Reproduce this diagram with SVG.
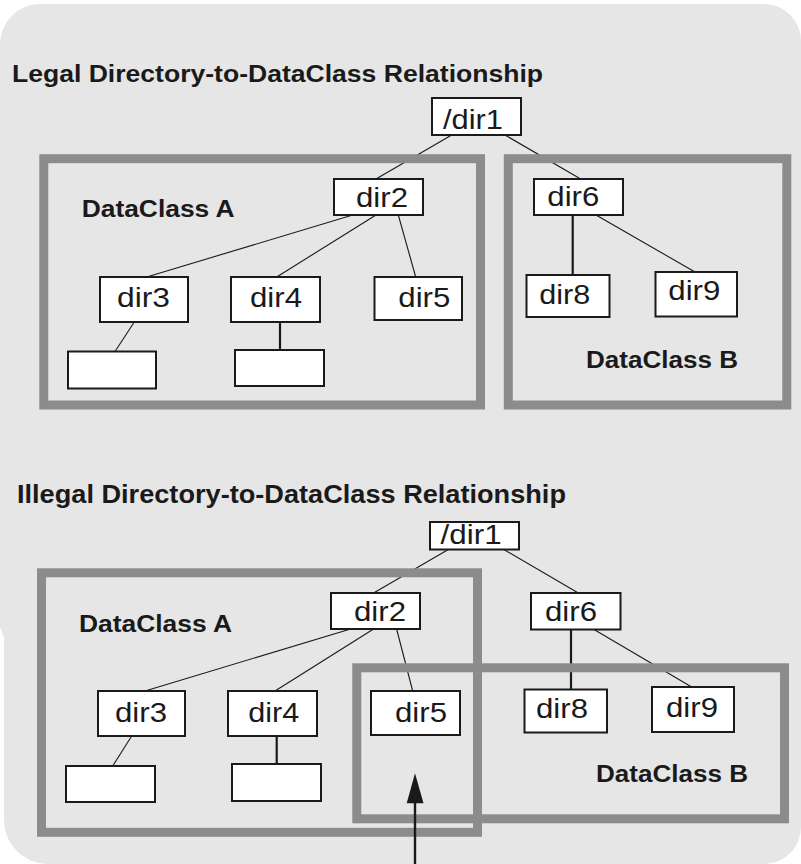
<svg xmlns="http://www.w3.org/2000/svg" width="801" height="864" viewBox="0 0 801 864">
<style>
.bg{fill:#e6e6e6}
.frame{fill:none;stroke:#8c8c8c;stroke-width:9}
.box{fill:#fff;stroke:#1a1a1a;stroke-width:2}
.lbl{font-family:"Liberation Sans",Arial,sans-serif;fill:#1a1a1a;font-size:27px}
.title{font-family:"Liberation Sans",Arial,sans-serif;font-weight:bold;fill:#1a1a1a}
.conn line{stroke:#1a1a1a;stroke-width:1.1}
.conn line.thick{stroke-width:2.2}
</style>
<path class="bg" d="M40,4 H764 A37,37 0 0 1 801,41 V827 A37,37 0 0 1 764,864 H48 A44,44 0 0 1 4,820 V637 L0,627 V44 A40,40 0 0 1 40,4 Z"/>
<text class="title" x="12" y="81.5" font-size="23.5" textLength="531" lengthAdjust="spacingAndGlyphs">Legal Directory-to-DataClass Relationship</text>
<text class="title" x="17" y="503" font-size="25.5" textLength="549" lengthAdjust="spacingAndGlyphs">Illegal Directory-to-DataClass Relationship</text>

<g id="connectors" class="conn">
<line x1="451.7" y1="135" x2="376" y2="179"/>
<line x1="505" y1="135" x2="580.7" y2="179"/>
<line x1="352.7" y1="215" x2="146.7" y2="277"/>
<line x1="376" y1="215" x2="276.7" y2="277"/>
<line x1="398.3" y1="215" x2="415.7" y2="277"/>
<line x1="134.3" y1="322" x2="115" y2="351.5"/>
<line class="thick" x1="280" y1="322" x2="280" y2="350"/>
<line class="thick" x1="572.7" y1="215" x2="572.7" y2="275"/>
<line x1="596" y1="215" x2="695" y2="272"/>

<line x1="448.3" y1="549.5" x2="373.6" y2="593"/>
<line x1="503.8" y1="549.5" x2="578.3" y2="593"/>
<line x1="350.6" y1="629" x2="145" y2="691"/>
<line x1="373.6" y1="629" x2="275" y2="691"/>
<line x1="396.6" y1="629" x2="412.7" y2="691"/>
<line x1="131.7" y1="736" x2="112.7" y2="766"/>
<line class="thick" x1="276.7" y1="736" x2="276.7" y2="764"/>
<line class="thick" x1="571" y1="629.5" x2="571" y2="689.5"/>
<line x1="594" y1="629.5" x2="691.7" y2="687"/>
</g>

<g id="legal-dataclass-a"><rect class="frame" x="43.8" y="158.7" width="436.7" height="246.3"/>
<text class="title" x="81.7" y="216.7" font-size="23.5" textLength="153" lengthAdjust="spacingAndGlyphs">DataClass A</text></g>
<g id="legal-dataclass-b"><rect class="frame" x="508.3" y="158.7" width="278.5" height="246.3"/>
<text class="title" x="586" y="368.3" font-size="23.5" textLength="152" lengthAdjust="spacingAndGlyphs">DataClass B</text></g>
<g id="illegal-dataclass-a"><rect class="frame" x="41.5" y="572.8" width="436" height="259.5"/>
<text class="title" x="79" y="632" font-size="23.5" textLength="153" lengthAdjust="spacingAndGlyphs">DataClass A</text></g>
<g id="illegal-dataclass-b"><rect class="frame" x="356.8" y="667.8" width="427.7" height="151"/>
<text class="title" x="596" y="781.7" font-size="23.5" textLength="152" lengthAdjust="spacingAndGlyphs">DataClass B</text></g>

<g id="t-dir1"><rect class="box" x="432" y="98" width="89" height="37"/><text class="lbl" x="443" y="128.5" font-size="30" textLength="60" lengthAdjust="spacingAndGlyphs">/dir1</text></g>
<g id="t-dir2"><rect class="box" x="334" y="179" width="89" height="36"/><text class="lbl" x="356" y="207" textLength="52" lengthAdjust="spacingAndGlyphs">dir2</text></g>
<g id="t-dir3"><rect class="box" x="100" y="277" width="88" height="45"/><text class="lbl" x="117" y="307" textLength="53" lengthAdjust="spacingAndGlyphs">dir3</text></g>
<g id="t-dir4"><rect class="box" x="231" y="277" width="89" height="45"/><text class="lbl" x="250" y="307" textLength="52" lengthAdjust="spacingAndGlyphs">dir4</text></g>
<g id="t-dir5"><rect class="box" x="374.5" y="277" width="87.5" height="43"/><text class="lbl" x="398.3" y="307" textLength="52" lengthAdjust="spacingAndGlyphs">dir5</text></g>
<g id="t-dir6"><rect class="box" x="534" y="179" width="89" height="36"/><text class="lbl" x="547.3" y="205.5" textLength="52" lengthAdjust="spacingAndGlyphs">dir6</text></g>
<g id="t-dir8"><rect class="box" x="526.5" y="275" width="83" height="42"/><text class="lbl" x="539.3" y="303.5" textLength="51" lengthAdjust="spacingAndGlyphs">dir8</text></g>
<g id="t-dir9"><rect class="box" x="655.5" y="272" width="81.5" height="44.5"/><text class="lbl" x="668.3" y="299.5" textLength="52" lengthAdjust="spacingAndGlyphs">dir9</text></g>
<g id="t-empty1"><rect class="box" x="68" y="351.5" width="88" height="37"/></g>
<g id="t-empty2"><rect class="box" x="235" y="350" width="89" height="36"/></g>

<g id="b-dir1"><rect class="box" x="430" y="522" width="89" height="27.5"/><text class="lbl" x="440.6" y="543.5" font-size="24" textLength="61" lengthAdjust="spacingAndGlyphs">/dir1</text></g>
<g id="b-dir2"><rect class="box" x="331" y="593" width="89" height="36"/><text class="lbl" x="354" y="620.5" textLength="52" lengthAdjust="spacingAndGlyphs">dir2</text></g>
<g id="b-dir3"><rect class="box" x="98" y="691" width="87" height="45"/><text class="lbl" x="115" y="722" textLength="52" lengthAdjust="spacingAndGlyphs">dir3</text></g>
<g id="b-dir4"><rect class="box" x="228" y="691" width="89" height="45"/><text class="lbl" x="248.3" y="722" textLength="51" lengthAdjust="spacingAndGlyphs">dir4</text></g>
<g id="b-dir5"><rect class="box" x="371" y="691" width="89" height="44"/><text class="lbl" x="395" y="722" textLength="52" lengthAdjust="spacingAndGlyphs">dir5</text></g>
<g id="b-dir6"><rect class="box" x="531" y="593" width="89.5" height="36.5"/><text class="lbl" x="545" y="621" textLength="52" lengthAdjust="spacingAndGlyphs">dir6</text></g>
<g id="b-dir8"><rect class="box" x="524.5" y="689.5" width="82.5" height="43"/><text class="lbl" x="536" y="717.5" textLength="52" lengthAdjust="spacingAndGlyphs">dir8</text></g>
<g id="b-dir9"><rect class="box" x="652" y="687" width="82" height="45"/><text class="lbl" x="666" y="717" textLength="52" lengthAdjust="spacingAndGlyphs">dir9</text></g>
<g id="b-empty1"><rect class="box" x="66" y="766" width="89" height="36"/></g>
<g id="b-empty2"><rect class="box" x="232" y="764" width="89" height="37"/></g>

<g id="arrow">
<line x1="415" y1="802" x2="415" y2="864" stroke="#1a1a1a" stroke-width="2.4"/>
<polygon points="415,773.3 406.7,803.3 423.5,803.3" fill="#1a1a1a"/>
</g>
</svg>
